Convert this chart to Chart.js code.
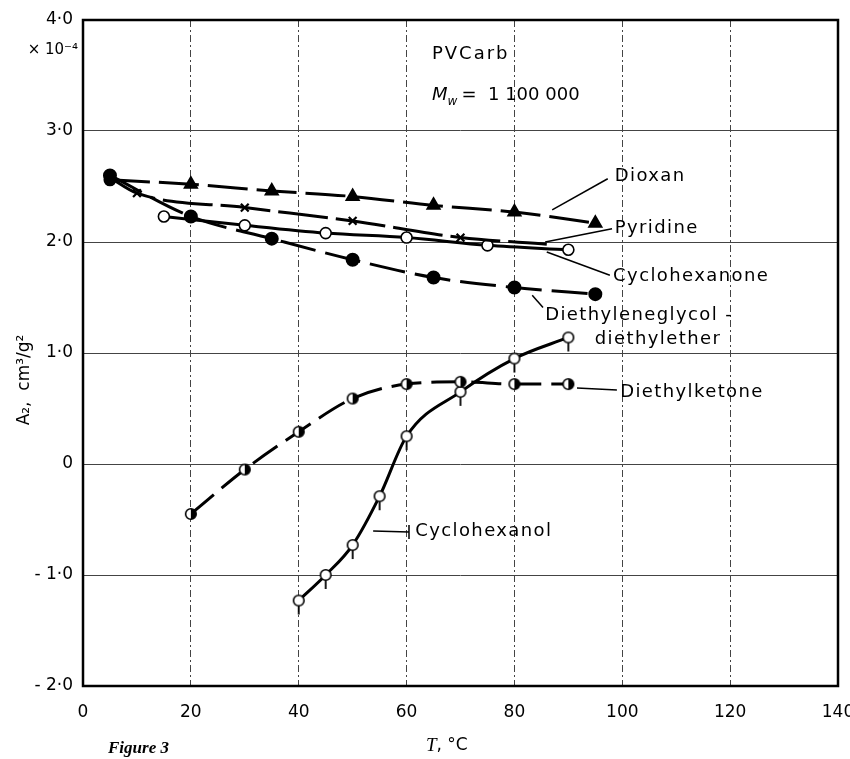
<!DOCTYPE html>
<html>
<head>
<meta charset="utf-8">
<script src="https://cdn.jsdelivr.net/npm/chart.js@4.4.0/dist/chart.umd.min.js"></script>
<style>
html, body { margin: 0; padding: 0; background: #fff; }
#wrap { width: 850px; height: 759px; }
</style>
</head>
<body>
<div id="wrap"><canvas id="chart" width="850" height="759"></canvas></div>
<script>
// A2 (x 10^-4 cm3/g2) against temperature T (deg C), PVCarb, Mw = 1 100 000
const xTicks = [0, 20, 40, 60, 80, 100, 120, 140];
const yTicks = [-2, -1, 0, 1, 2, 3, 4];

const dioxanT = [5, 20, 35, 50, 65, 80, 95];
const dioxanA = [2.56, 2.52, 2.46, 2.41, 2.33, 2.27, 2.17];

const pyridineT = [5, 10, 30, 50, 70, 86];
const pyridineA = [2.58, 2.44, 2.31, 2.19, 2.04, 1.98];

const cyclohexanoneT = [15, 30, 45, 60, 75, 90];
const cyclohexanoneA = [2.23, 2.15, 2.08, 2.04, 1.97, 1.93];

const glycolEtherT = [5, 20, 35, 50, 65, 80, 95];
const glycolEtherA = [2.6, 2.23, 2.03, 1.84, 1.68, 1.59, 1.53];

const ketoneT = [20, 30, 40, 50, 60, 70, 80, 90];
const ketoneA = [-0.45, -0.05, 0.29, 0.59, 0.72, 0.74, 0.72, 0.72];

const cyclohexanolT = [40, 45, 50, 55, 60, 70, 80, 90];
const cyclohexanolA = [-1.23, -1.0, -0.73, -0.29, 0.25, 0.65, 0.95, 1.14];

function pts(xs, ys) {
    return xs.map(function(x, i) { return { x: x, y: ys[i] }; });
}

// half filled circle (diethylketone)
function halfDot() {
    var c = document.createElement('canvas');
    c.width = 14; c.height = 14;
    var g = c.getContext('2d');
    g.beginPath(); g.arc(7, 7, 5.3, 0, 2 * Math.PI); g.fillStyle = '#fff'; g.fill();
    g.beginPath(); g.arc(7, 7, 5.3, -Math.PI / 2, Math.PI / 2); g.closePath(); g.fillStyle = '#000'; g.fill();
    g.beginPath(); g.arc(7, 7, 5.3, 0, 2 * Math.PI); g.lineWidth = 1.6; g.strokeStyle = '#000'; g.stroke();
    return c;
}

// open circle with a small tail below (cyclohexanol)
function tailDot() {
    var c = document.createElement('canvas');
    c.width = 14; c.height = 36;
    var g = c.getContext('2d');
    g.strokeStyle = '#000'; g.lineWidth = 1.8;
    g.beginPath(); g.moveTo(7, 23); g.lineTo(7, 32); g.stroke();
    g.beginPath(); g.arc(7, 18, 5.3, 0, 2 * Math.PI); g.fillStyle = '#fff'; g.fill();
    g.lineWidth = 1.6; g.stroke();
    return c;
}

var half = halfDot();
var tail = tailDot();

function yLabel(v) {
    if (v === 0) return '0';
    var s = Math.abs(v).toFixed(1).replace('.', '\u00b7');
    return v < 0 ? '- ' + s : s;
}

var labels = [
    { text: 'Dioxan', x: 98.6, y: 2.59, from: [87.0, 2.29], to: [97.3, 2.57] },
    { text: 'Pyridine', x: 98.6, y: 2.12, from: [85.7, 2.0], to: [98.1, 2.12] },
    { text: 'Cyclohexanone', x: 98.3, y: 1.69, from: [86.0, 1.91], to: [97.7, 1.70] },
    { text: 'Diethyleneglycol -', x: 85.7, y: 1.34, from: [83.3, 1.52], to: [85.3, 1.41] },
    { text: 'diethylether', x: 94.9, y: 1.12 },
    { text: 'Diethylketone', x: 99.6, y: 0.65, from: [91.6, 0.685], to: [99.0, 0.667] },
    { text: 'Cyclohexanol', x: 61.6, y: -0.61, from: [53.8, -0.604], to: [60.45, -0.613], bar: true }
];

var decor = {
    id: 'decor',
    afterDraw: function(chart) {
        var ctx = chart.ctx, a = chart.chartArea;
        var sx = chart.scales.x, sy = chart.scales.y;
        ctx.save();
        // frame
        ctx.strokeStyle = '#000';
        ctx.lineWidth = 2.5;
        ctx.strokeRect(a.left, a.top, a.right - a.left, a.bottom - a.top);

        // curve labels and leader lines
        ctx.fillStyle = '#000';
        ctx.font = '18px "DejaVu Sans"';
        ctx.letterSpacing = '1.4px';
        ctx.textAlign = 'left';
        ctx.textBaseline = 'middle';
        ctx.lineWidth = 1.5;
        labels.forEach(function(l) {
            ctx.fillText(l.text, sx.getPixelForValue(l.x), sy.getPixelForValue(l.y));
            if (l.from) {
                var x2 = sx.getPixelForValue(l.to[0]), y2 = sy.getPixelForValue(l.to[1]);
                ctx.beginPath();
                ctx.moveTo(sx.getPixelForValue(l.from[0]), sy.getPixelForValue(l.from[1]));
                ctx.lineTo(x2, y2);
                if (l.bar) { ctx.moveTo(x2, y2 - 7); ctx.lineTo(x2, y2 + 7); }
                ctx.stroke();
            }
        });

        // sample info
        ctx.letterSpacing = '2px';
        ctx.fillText('PVCarb', sx.getPixelForValue(64.7), sy.getPixelForValue(3.69));
        var mx = sx.getPixelForValue(64.7), my = sy.getPixelForValue(3.32);
        ctx.letterSpacing = '0px';
        ctx.font = 'italic 18px "DejaVu Sans"';
        ctx.fillText('M', mx, my);
        var mw = ctx.measureText('M').width;
        ctx.font = 'italic 12px "DejaVu Sans"';
        ctx.fillText('w', mx + mw, my + 6);
        ctx.font = '18px "DejaVu Sans"';
        ctx.fillText('=  1 100 000', mx + mw + 14, my);

        // scale factor
        ctx.font = '15px "DejaVu Sans"';
        ctx.textAlign = 'right';
        ctx.fillText('\u00d7 10\u207b\u2074', 78, 50);

        // y title
        ctx.save();
        ctx.translate(25, 380);
        ctx.rotate(-Math.PI / 2);
        ctx.textAlign = 'center';
        ctx.font = '17px "DejaVu Sans"';
        ctx.fillText('A\u2082,  cm\u00b3/g\u00b2', 0, 0);
        ctx.restore();

        // x title
        ctx.textAlign = 'left';
        ctx.font = 'italic 19px "Liberation Serif"';
        ctx.fillText('T', 426, 746);
        var tw = ctx.measureText('T').width;
        ctx.font = '17px "DejaVu Sans"';
        ctx.fillText(', \u00b0C', 426 + tw, 746);

        // caption
        ctx.font = 'italic bold 17px "Liberation Serif"';
        ctx.fillText('Figure 3', 108, 749);
        ctx.restore();
    }
};

var lineBase = { borderColor: '#000', backgroundColor: '#000', borderWidth: 3, fill: false,
                 cubicInterpolationMode: 'monotone', pointBorderColor: '#000' };

new Chart(document.getElementById('chart'), {
    type: 'line',
    data: {
        datasets: [
            Object.assign({}, lineBase, {
                label: 'Dioxan', data: pts(dioxanT, dioxanA), borderDash: [40, 9],
                pointStyle: ['circle', 'triangle', 'triangle', 'triangle', 'triangle', 'triangle', 'triangle'],
                pointRadius: [5, 6, 6, 6, 6, 6, 6], pointBackgroundColor: '#000'
            }),
            Object.assign({}, lineBase, {
                label: 'Pyridine', data: pts(pyridineT, pyridineA), borderDash: [50, 8],
                pointStyle: 'crossRot', pointRadius: [0, 5.5, 5.5, 5.5, 5.5, 0], pointBorderWidth: 2.2
            }),
            Object.assign({}, lineBase, {
                label: 'Cyclohexanone', data: pts(cyclohexanoneT, cyclohexanoneA),
                pointStyle: 'circle', pointRadius: 5.5, pointBackgroundColor: '#fff', pointBorderWidth: 1.6
            }),
            Object.assign({}, lineBase, {
                label: 'Diethyleneglycol-diethylether', data: pts(glycolEtherT, glycolEtherA), borderDash: [36, 10],
                pointStyle: 'circle', pointRadius: 5.5, pointBackgroundColor: '#000'
            }),
            Object.assign({}, lineBase, {
                label: 'Diethylketone', data: pts(ketoneT, ketoneA), borderDash: [30, 10],
                pointStyle: half
            }),
            Object.assign({}, lineBase, {
                label: 'Cyclohexanol', data: pts(cyclohexanolT, cyclohexanolA),
                pointStyle: tail
            })
        ]
    },
    options: {
        responsive: false,
        animation: false,
        devicePixelRatio: 1,
        layout: { padding: { top: 20, right: 12, left: 0, bottom: 0 } },
        plugins: { legend: { display: false }, tooltip: { enabled: false } },
        scales: {
            x: {
                type: 'linear', min: 0, max: 140,
                afterBuildTicks: function(s) { s.ticks = xTicks.map(function(v) { return { value: v }; }); },
                afterFit: function(s) { s.height = 73; s.paddingLeft = 0; s.paddingRight = 0; },
                ticks: { color: '#000', font: { family: 'DejaVu Sans', size: 17 }, padding: 16, maxRotation: 0 },
                grid: { color: '#444', lineWidth: 1, drawTicks: false },
                border: { display: false, dash: [7, 3, 2, 3] }
            },
            y: {
                type: 'linear', min: -2, max: 4,
                afterBuildTicks: function(s) { s.ticks = yTicks.map(function(v) { return { value: v }; }); },
                afterFit: function(s) { s.width = 83; s.paddingTop = 0; s.paddingBottom = 0; },
                ticks: { color: '#000', font: { family: 'DejaVu Sans', size: 17 }, padding: 10,
                         callback: function(v) { return yLabel(v); } },
                grid: { color: '#444', lineWidth: 1, drawTicks: false },
                border: { display: false }
            }
        }
    },
    plugins: [decor]
});
</script>
</body>
</html>
